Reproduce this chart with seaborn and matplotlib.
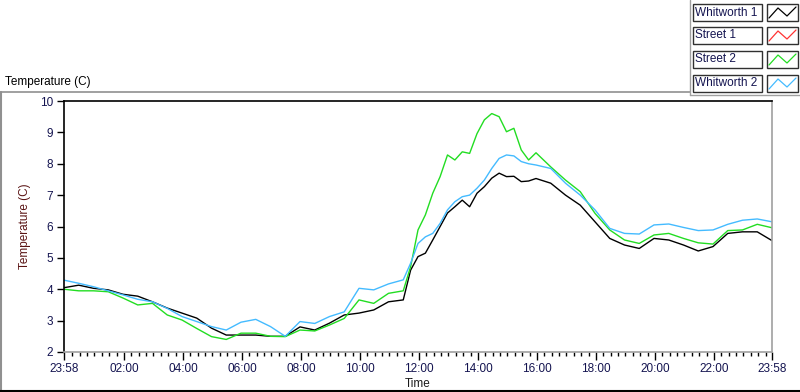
import matplotlib
matplotlib.use("Agg")
import matplotlib.pyplot as plt
from matplotlib.lines import Line2D
from matplotlib.patches import Rectangle
from matplotlib.ticker import FixedLocator
import seaborn as sns
import pandas as pd

# ---------------- data ----------------
series_names = ["Whitworth 1", "Street 1", "Street 2", "Whitworth 2"]
series_colors = ["#000000", "#ff3333", "#22dd22", "#44bbff"]

# hours elapsed since 23:58 (start of record)
hours = [0, 0.5, 1, 1.5, 2, 2.5, 3, 3.5, 4, 4.5, 5, 5.5, 6, 6.5, 7, 7.5, 8, 8.5,
         9, 9.5, 10, 10.5, 11, 11.5, 11.75, 12, 12.25, 12.5, 12.75, 13, 13.25,
         13.5, 13.75, 14, 14.25, 14.5, 14.75, 15, 15.25, 15.5, 15.75, 16, 16.5,
         17, 17.5, 18, 18.5, 19, 19.5, 20, 20.5, 21, 21.5, 22, 22.5, 23, 23.5, 24]

whitworth_1 = [4.05, 4.13, 4.03, 3.98, 3.84, 3.78, 3.6, 3.4, 3.24, 3.08, 2.76, 2.54,
               2.54, 2.54, 2.5, 2.5, 2.8, 2.7, 2.92, 3.18, 3.24, 3.34, 3.6, 3.66,
               4.61, 5.04, 5.15, 5.57, 6.0, 6.43, 6.63, 6.84, 6.63, 7.06, 7.27, 7.54,
               7.7, 7.59, 7.6, 7.43, 7.45, 7.53, 7.38, 7.0, 6.68, 6.15, 5.62, 5.41,
               5.3, 5.62, 5.57, 5.41, 5.22, 5.36, 5.78, 5.83, 5.83, 5.55]

street_1 = []  # no samples plotted

street_2 = [4.0, 3.95, 3.95, 3.92, 3.72, 3.5, 3.55, 3.18, 3.02, 2.75, 2.49, 2.4,
            2.6, 2.6, 2.5, 2.49, 2.7, 2.67, 2.86, 3.07, 3.66, 3.55, 3.87, 3.95,
            4.72, 5.89, 6.37, 7.06, 7.59, 8.28, 8.12, 8.38, 8.33, 8.96, 9.4, 9.6,
            9.5, 9.02, 9.13, 8.44, 8.12, 8.35, 7.9, 7.48, 7.11, 6.42, 5.89, 5.57,
            5.46, 5.73, 5.78, 5.62, 5.48, 5.44, 5.87, 5.89, 6.07, 5.96]

whitworth_2 = [4.29, 4.19, 4.08, 3.95, 3.82, 3.68, 3.6, 3.39, 3.13, 2.97, 2.81, 2.7,
               2.95, 3.04, 2.81, 2.5, 2.97, 2.91, 3.13, 3.28, 4.03, 3.98, 4.17, 4.3,
               4.83, 5.46, 5.67, 5.78, 6.1, 6.53, 6.79, 6.95, 7.0, 7.22, 7.48, 7.85,
               8.17, 8.28, 8.25, 8.07, 8.0, 7.96, 7.85, 7.38, 7.0, 6.53, 5.94, 5.78,
               5.76, 6.05, 6.08, 5.97, 5.87, 5.89, 6.07, 6.2, 6.24, 6.15]

x_tick_pos = [0, 2.0333, 4.0333, 6.0333, 8.0333, 10.0333, 12.0333, 14.0333,
              16.0333, 18.0333, 20.0333, 22.0333, 24]
x_tick_labels = ["23:58", "02:00", "04:00", "06:00", "08:00", "10:00", "12:00",
                 "14:00", "16:00", "18:00", "20:00", "22:00", "23:58"]
y_ticks = [2, 3, 4, 5, 6, 7, 8, 9, 10]

# ---------------- build table ----------------
rows = []
for name, vals in zip(series_names, [whitworth_1, street_1, street_2, whitworth_2]):
    for h, v in zip(hours, vals):
        rows.append({"hours": h, "temp": v, "series": name})
df = pd.DataFrame(rows)

sns.set_style("white")
plt.rcParams["font.family"] = ["Liberation Sans", "DejaVu Sans"]

W, H = 800, 392
fig = plt.figure(figsize=(W / 100, H / 100), dpi=100)
fig.patch.set_facecolor("white")


def fx(x):
    return x / W


def fy(y):
    return 1 - y / H


ax = fig.add_axes([fx(64), fy(352), (772 - 64) / W, (352 - 101) / H])
palette = dict(zip(series_names, series_colors))
plot_df = df[df["series"] != "Street 1"]
sns.lineplot(data=plot_df, x="hours", y="temp", hue="series", palette=palette,
             linewidth=1.0, ax=ax, legend=False, sort=False)

ax.set_xlim(0, 24)
ax.set_ylim(2, 10)
ax.set_xticks(x_tick_pos)
ax.set_xticklabels(x_tick_labels)
minor = [0.2833 + 0.25 * i for i in range(96)]
minor = [m for m in minor if m < 24 and all(abs(m - p) > 0.05 for p in x_tick_pos)]
ax.xaxis.set_minor_locator(FixedLocator(minor))
ax.set_yticks(y_ticks)

tick_col = "#141450"
ax.tick_params(axis="x", which="major", direction="out", length=6, width=1,
               color="black", labelsize=8.5, labelcolor=tick_col, pad=2)
ax.tick_params(axis="x", which="minor", direction="out", length=3, width=1,
               color="black")
ax.tick_params(axis="y", which="major", direction="out", length=5, width=1,
               color="black", labelsize=8.5, labelcolor=tick_col, pad=3)
ax.tick_params(left=True, bottom=True)
ax.xaxis.set_tick_params(which="both", bottom=True)

for side in ["top", "left"]:
    ax.spines[side].set_color("black")
    ax.spines[side].set_linewidth(1.2)
for side in ["right", "bottom"]:
    ax.spines[side].set_color("#a0a0a0")
    ax.spines[side].set_linewidth(1.2)

ax.set_xlabel("Time", fontsize=8.5, color="#1a1a1a", labelpad=2)
ax.set_ylabel("Temperature (C)", fontsize=8.5, color="#5a1414", labelpad=6)

# ---------------- panel decorations ----------------
fig.text(fx(5), fy(82), "Temperature (C)", fontsize=8.5, color="black",
         va="center", ha="left")

def line(x0, y0, x1, y1, color, lw=1.0):
    fig.add_artist(Line2D([fx(x0), fx(x1)], [fy(y0), fy(y1)], color=color,
                          linewidth=lw, transform=fig.transFigure))

line(0, 92, 690, 92, "#909090", 1.2)
line(1, 92, 1, 390, "#909090", 1.5)
line(0, 390.5, 800, 390.5, "black", 1.5)
line(690, 0, 690, 95, "#a0a0a0", 1.0)
line(690, 95, 800, 95, "#a0a0a0", 1.0)

# ---------------- legend ----------------
row_tops = [4, 27, 51, 75]
for name, col, top in zip(series_names, series_colors, row_tops):
    fig.add_artist(Rectangle((fx(693), fy(top + 17)), (762 - 693) / W, 17 / H,
                             transform=fig.transFigure, facecolor="white",
                             edgecolor="#303030", linewidth=1.0))
    fig.text(fx(695), fy(top + 8.5), name, fontsize=8.5, color="#141450",
             va="center", ha="left")
    fig.add_artist(Rectangle((fx(767), fy(top + 17)), (798 - 767) / W, 17 / H,
                             transform=fig.transFigure, facecolor="white",
                             edgecolor="#303030", linewidth=1.0))
    zx = [769, 778, 787, 796]
    zy = [top + 14, top + 4, top + 12, top + 3]
    fig.add_artist(Line2D([fx(v) for v in zx], [fy(v) for v in zy], color=col,
                          linewidth=0.9, transform=fig.transFigure))

fig.savefig("out.png", dpi=100, facecolor="white")
